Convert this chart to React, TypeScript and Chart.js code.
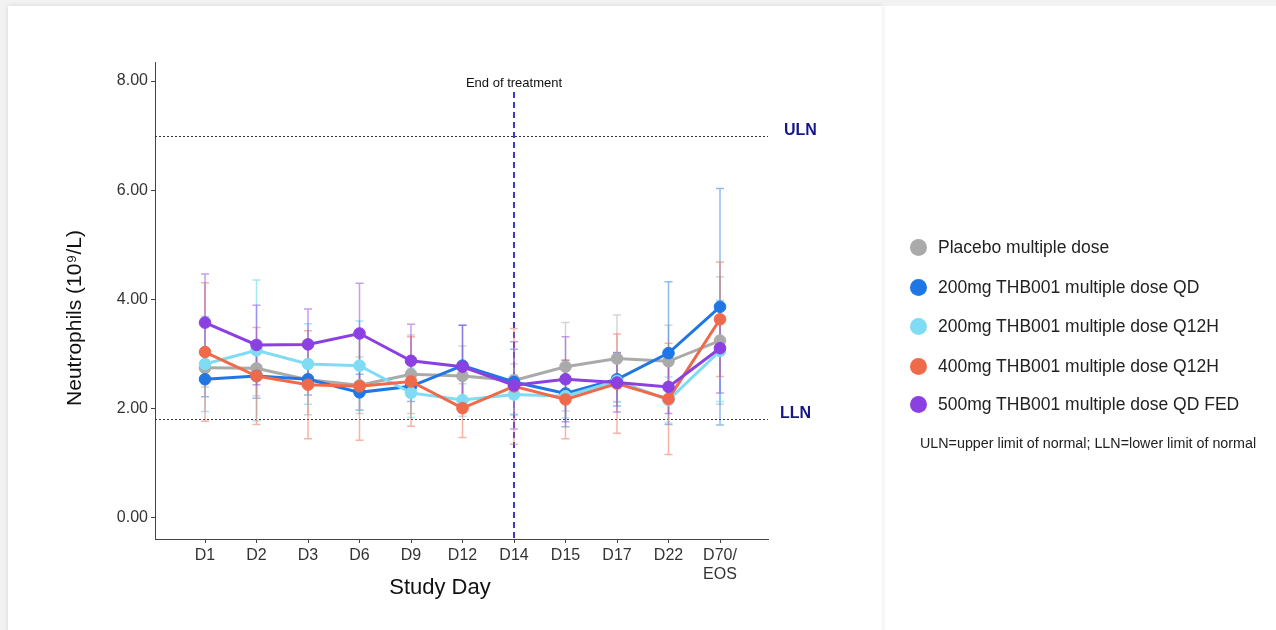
import React, { useEffect, useRef } from 'react';
import { Chart, registerables } from 'chart.js';

Chart.register(...registerables);

const dayLabels: (string | string[])[] = ['D1', 'D2', 'D3', 'D6', 'D9', 'D12', 'D14', 'D15', 'D17', 'D22', ['D70/', 'EOS']];
const yTickValues = [0, 2, 4, 6, 8];

const seriesNames = [
  'Placebo multiple dose',
  '200mg THB001 multiple dose QD',
  '200mg THB001 multiple dose Q12H',
  '400mg THB001 multiple dose Q12H',
  '500mg THB001 multiple dose QD FED',
];

const placeboMean = [2.74, 2.73, 2.52, 2.42, 2.62, 2.59, 2.51, 2.76, 2.91, 2.86, 3.24];
const placeboSd = [0.35, 0.5, 0.64, 0.52, 0.72, 0.55, 0.3, 0.81, 0.8, 0.66, 1.17];

const qd200Mean = [2.53, 2.59, 2.53, 2.29, 2.4, 2.78, 2.48, 2.27, 2.53, 3.01, 3.86];
const qd200Sd = [0.32, 0.41, 0.29, 0.33, 0.28, 0.74, 0.6, 0.61, 0.49, 1.31, 2.17];

const q12h200Mean = [2.81, 3.06, 2.81, 2.78, 2.28, 2.15, 2.25, 2.22, 2.5, 2.15, 3.05];
const q12h200Sd = [0.87, 1.29, 0.74, 0.82, 0.45, 0.3, 0.36, 0.4, 0.38, 0.42, 0.93];

const q12h400Mean = [3.03, 2.59, 2.43, 2.4, 2.49, 2.0, 2.4, 2.16, 2.45, 2.17, 3.63];
const q12h400Sd = [1.27, 0.89, 0.99, 0.99, 0.82, 0.54, 1.06, 0.72, 0.91, 1.02, 1.05];

const qdFed500Mean = [3.57, 3.16, 3.17, 3.37, 2.87, 2.76, 2.42, 2.53, 2.47, 2.39, 3.1];
const qdFed500Sd = [0.89, 0.73, 0.65, 0.92, 0.67, 0.76, 0.8, 0.78, 0.54, 0.49, 0.82];

const ULN = 7.0;
const LLN = 1.8;
const endOfTreatmentIndex = 6;

const colors = ['#aaaaaa', '#1f77e6', '#7fdcf4', '#ef6a4b', '#8b40e2'];
const barColors = [
  'rgba(170,170,170,0.5)',
  'rgba(31,119,230,0.5)',
  'rgba(127,220,244,0.7)',
  'rgba(239,106,75,0.5)',
  'rgba(139,64,226,0.5)',
];

const means = [placeboMean, qd200Mean, q12h200Mean, q12h400Mean, qdFed500Mean];
const sds = [placeboSd, qd200Sd, q12h200Sd, q12h400Sd, qdFed500Sd];

const FONT = '"Liberation Sans", Arial, Helvetica, sans-serif';

const overlayPlugin = {
  id: 'overlay',
  beforeDatasetsDraw(chart: any) {
    const { ctx, chartArea, scales } = chart;
    const xs = scales.x;
    const ys = scales.y;
    ctx.save();
    ctx.strokeStyle = '#333333';
    ctx.lineWidth = 1;
    ctx.setLineDash([2, 2]);
    [ULN, LLN].forEach((v) => {
      const y = Math.round(ys.getPixelForValue(v)) + 0.5;
      ctx.beginPath();
      ctx.moveTo(chartArea.left, y);
      ctx.lineTo(chartArea.right, y);
      ctx.stroke();
    });
    const ex = xs.getPixelForValue(endOfTreatmentIndex);
    ctx.strokeStyle = '#3b3bc4';
    ctx.lineWidth = 2;
    ctx.setLineDash([6, 4]);
    ctx.beginPath();
    ctx.moveTo(ex, 92);
    ctx.lineTo(ex, chartArea.bottom);
    ctx.stroke();
    ctx.setLineDash([]);
    means.forEach((m, si) => {
      ctx.strokeStyle = barColors[si];
      ctx.lineWidth = 1.5;
      m.forEach((v, i) => {
        const x = xs.getPixelForValue(i);
        const yt = ys.getPixelForValue(v + sds[si][i]);
        const yb = ys.getPixelForValue(v - sds[si][i]);
        ctx.beginPath();
        ctx.moveTo(x, yt);
        ctx.lineTo(x, yb);
        ctx.moveTo(x - 4, yt);
        ctx.lineTo(x + 4, yt);
        ctx.moveTo(x - 4, yb);
        ctx.lineTo(x + 4, yb);
        ctx.stroke();
      });
    });
    ctx.restore();
  },
  afterDraw(chart: any) {
    const { ctx, chartArea, scales } = chart;
    const xs = scales.x;
    const ys = scales.y;
    ctx.save();
    ctx.fillStyle = '#111111';
    ctx.font = `13px ${FONT}`;
    ctx.textAlign = 'center';
    ctx.textBaseline = 'middle';
    ctx.fillText('End of treatment', xs.getPixelForValue(endOfTreatmentIndex), 83);

    ctx.fillStyle = '#16168a';
    ctx.font = `bold 16px ${FONT}`;
    ctx.textAlign = 'left';
    ctx.fillText('ULN', chartArea.right + 16, ys.getPixelForValue(ULN) - 5);
    ctx.fillText('LLN', chartArea.right + 12, ys.getPixelForValue(LLN) - 5);

    ctx.fillStyle = '#111111';
    ctx.font = `22px ${FONT}`;
    ctx.textAlign = 'center';
    ctx.fillText('Study Day', 440, 588);

    ctx.font = `21px ${FONT}`;
    ctx.translate(75, 318);
    ctx.rotate(-Math.PI / 2);
    ctx.fillText('Neutrophils (10⁹/L)', 0, 0);
    ctx.restore();
  },
};

export default function App() {
  const ref = useRef<HTMLCanvasElement | null>(null);

  useEffect(() => {
    document.body.style.margin = '0';
    const canvas = ref.current;
    if (!canvas) return;
    const datasets = means.map((m, si) => ({
      label: seriesNames[si],
      data: m.map((v, i) => ({ x: i, y: v })),
      borderColor: colors[si],
      backgroundColor: colors[si],
      pointBackgroundColor: colors[si],
      pointBorderColor: colors[si],
      borderWidth: 3,
      pointRadius: 5.8,
      pointBorderWidth: 1,
      tension: 0,
      order: 5 - si,
    }));
    const chart = new Chart(canvas, {
      type: 'line',
      data: { datasets },
      options: {
        animation: false,
        responsive: false,
        maintainAspectRatio: false,
        layout: { padding: { left: 0, right: 508, top: 62, bottom: 0 } },
        plugins: { legend: { display: false }, tooltip: { enabled: false } },
        scales: {
          x: {
            type: 'linear',
            min: -0.971,
            max: 10.932,
            afterBuildTicks: (scale: any) => {
              scale.ticks = dayLabels.map((_, i) => ({ value: i }));
            },
            afterFit: (scale: any) => {
              scale.height = 91;
            },
            ticks: {
              autoSkip: false,
              maxRotation: 0,
              minRotation: 0,
              padding: 3,
              color: '#333333',
              font: { family: FONT, size: 16 },
              callback: (value: any) => dayLabels[Math.round(Number(value))] ?? '',
            },
            grid: {
              drawOnChartArea: false,
              drawTicks: true,
              tickLength: 4,
              color: '#444444',
            },
            border: { display: true, color: '#444444', width: 1 },
          },
          y: {
            type: 'linear',
            min: -0.4,
            max: 8.35,
            afterBuildTicks: (scale: any) => {
              scale.ticks = yTickValues.map((v) => ({ value: v }));
            },
            afterFit: (scale: any) => {
              scale.width = 155;
            },
            ticks: {
              padding: 3,
              color: '#333333',
              font: { family: FONT, size: 16 },
              callback: (value: any) => Number(value).toFixed(2),
            },
            grid: {
              drawOnChartArea: false,
              drawTicks: true,
              tickLength: 4,
              color: '#444444',
            },
            border: { display: true, color: '#444444', width: 1 },
          },
        },
      },
      plugins: [overlayPlugin],
    });
    return () => chart.destroy();
  }, []);

  const legendTops = [247, 287, 326, 366, 404];

  return (
    <div style={{ position: 'fixed', left: 0, top: 0, width: 1276, height: 630, background: '#ffffff', overflow: 'hidden' }}>
      <div style={{ position: 'absolute', left: 0, top: 0, width: 1276, height: 6, background: '#f2f2f2' }} />
      <div style={{ position: 'absolute', left: 0, top: 0, width: 8, height: 630, background: '#f2f2f2' }} />
      <div
        style={{
          position: 'absolute',
          left: 8,
          top: 6,
          width: 874,
          height: 640,
          background: '#ffffff',
          boxShadow: '0 0 5px rgba(0,0,0,0.12)',
        }}
      />
      <canvas ref={ref} width={1276} height={630} style={{ position: 'absolute', left: 0, top: 0, width: 1276, height: 630 }} />
      {seriesNames.map((name, i) => (
        <div
          key={name}
          style={{
            position: 'absolute',
            left: 910,
            top: legendTops[i] - 10,
            height: 20,
            display: 'flex',
            alignItems: 'center',
            fontFamily: FONT,
            fontSize: 17.5,
            color: '#222222',
            whiteSpace: 'nowrap',
          }}
        >
          <span
            style={{
              display: 'inline-block',
              width: 17,
              height: 17,
              borderRadius: '50%',
              background: colors[i],
              marginRight: 11,
            }}
          />
          {name}
        </div>
      ))}
      <div
        style={{
          position: 'absolute',
          left: 920,
          top: 435,
          fontFamily: FONT,
          fontSize: 14.3,
          color: '#222222',
          whiteSpace: 'nowrap',
        }}
      >
        ULN=upper limit of normal; LLN=lower limit of normal
      </div>
    </div>
  );
}
